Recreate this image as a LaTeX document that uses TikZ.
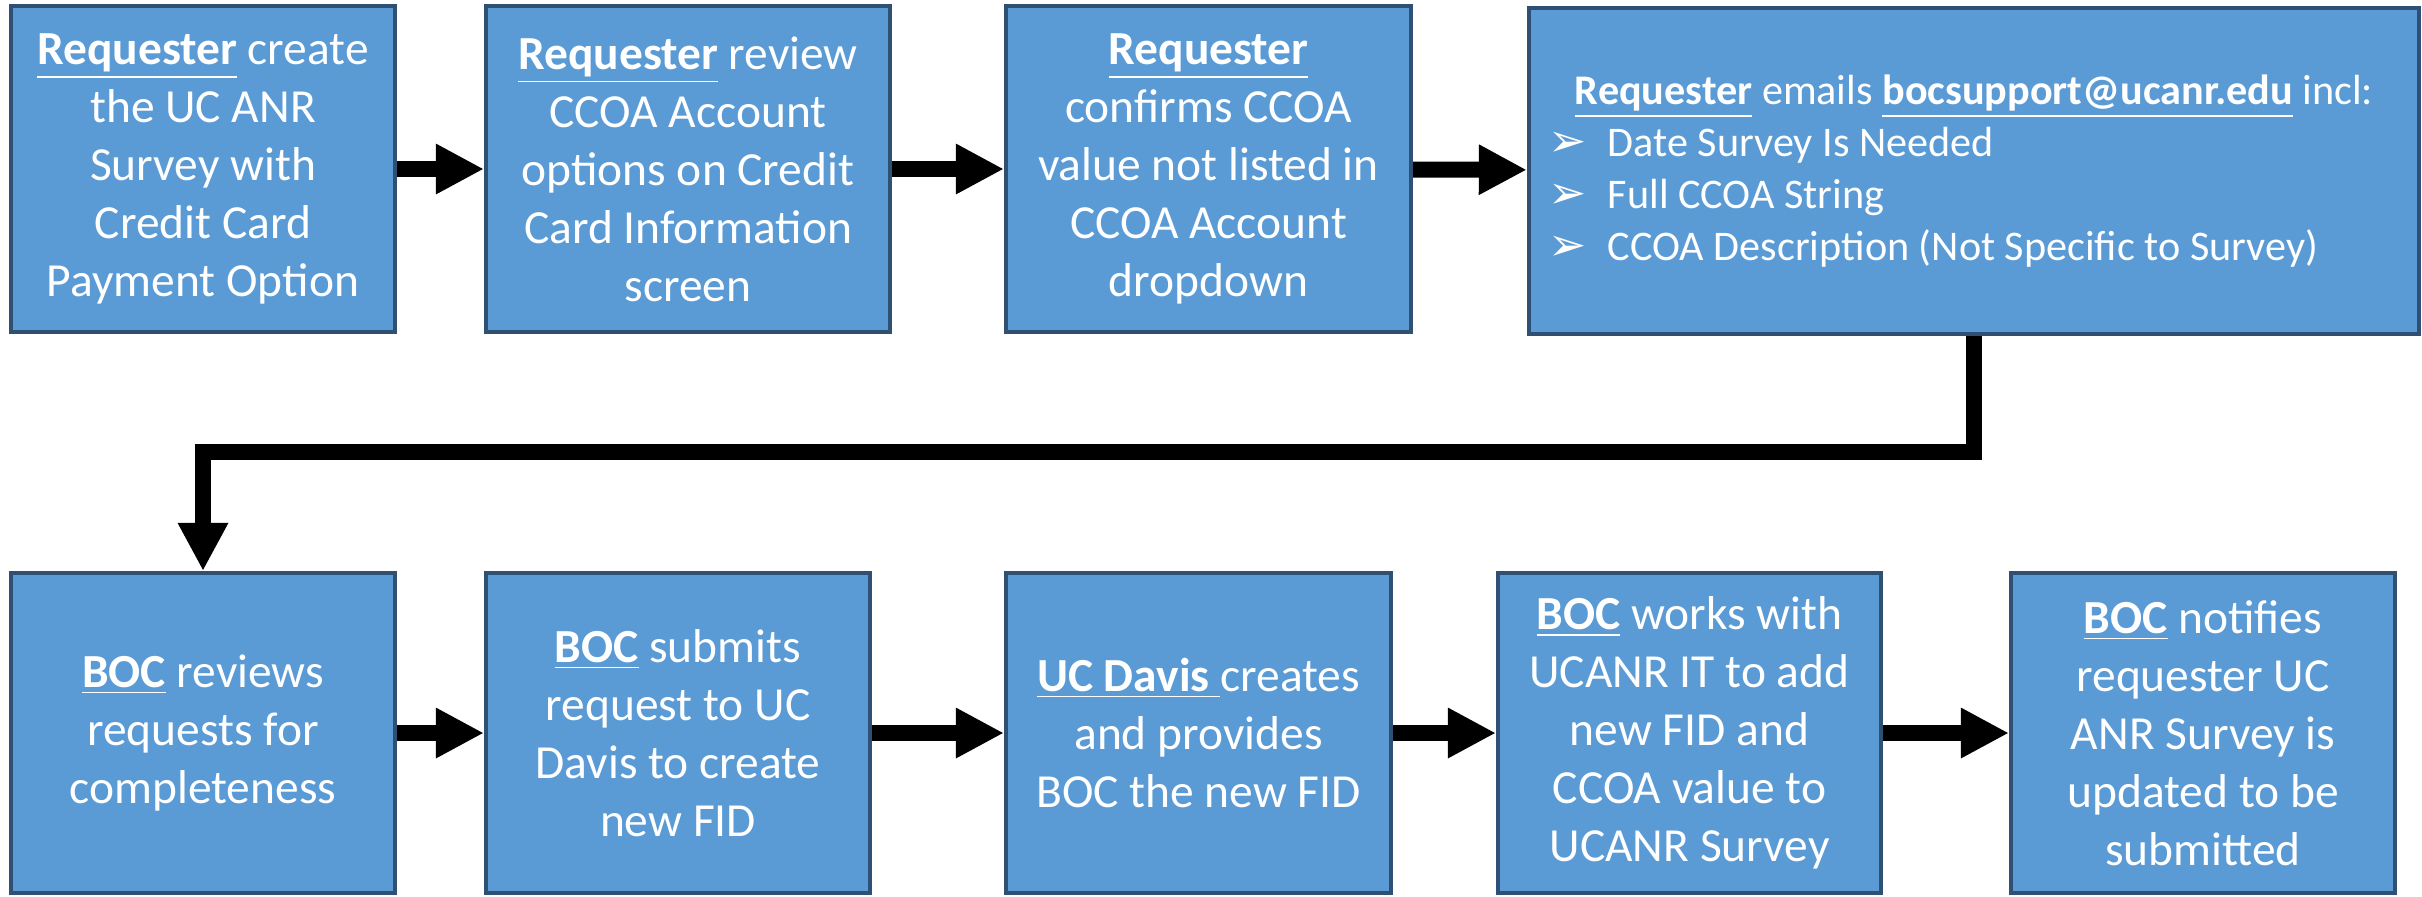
\documentclass[tikz,border=0pt]{standalone}
\usepackage{fontspec}
\setmainfont{Carlito}
\newfontfamily\dingfont{DejaVu Sans}
\usetikzlibrary{arrows.meta}
\definecolor{boxfill}{HTML}{5B9BD5}
\definecolor{boxline}{HTML}{2F4F73}
\newcommand{\ulb}[1]{\underline{\textbf{#1}}}
\newcommand{\bul}{\makebox[0.59cm][l]{\dingfont\fontsize{13}{14.6}\selectfont ➢}}
\tikzset{
  stepbox/.style={draw=boxline, line width=1.1pt, fill=boxfill, text=white,
    inner sep=0pt, align=center, font=\fontsize{13.5}{16.5}\selectfont},
  flow/.style={line width=0.16cm, line join=miter,
    -{Triangle[length=0.48cm, width=0.47cm]}}
}
\begin{document}
\begin{tikzpicture}[x=0.01cm,y=-0.01cm]
\useasboundingbox (0,0) rectangle (2422,896);
% top row
\node[stepbox, minimum width=3.84cm, minimum height=3.26cm] (b1) at (203,169)
  {\ulb{Requester} create\\the UC ANR\\Survey with\\Credit Card\\Payment Option};
\node[stepbox, minimum width=4.04cm, minimum height=3.26cm] (b2) at (688,169)
  {\ulb{Requester} review\\CCOA Account\\options on Credit\\Card Information\\screen};
\node[stepbox, minimum width=4.05cm, minimum height=3.26cm] (b3) at (1208.5,169)
  {\ulb{Requester}\\confirms CCOA\\value not listed in\\CCOA Account\\dropdown};
\node[stepbox, minimum width=8.90cm, minimum height=3.26cm, align=left,
  font=\fontsize{12}{14.8}\selectfont] (b4) at (1974,171)
  {\makebox[8.5cm][c]{\ulb{Requester} emails \ulb{bocsupport@ucanr.edu} incl:}\\
   \bul Date Survey Is Needed\\
   \bul Full CCOA String\\
   \bul CCOA Description (Not Specific to Survey)};
% bottom row
\node[stepbox, minimum width=3.84cm, minimum height=3.20cm] (b5) at (203,733)
  {\ulb{BOC} reviews\\requests for\\completeness};
\node[stepbox, minimum width=3.84cm, minimum height=3.20cm] (b6) at (678,733)
  {\ulb{BOC} submits\\request to UC\\Davis to create\\new FID};
\node[stepbox, minimum width=3.85cm, minimum height=3.20cm] (b7) at (1198.5,733)
  {\underline{\textbf{UC Davis} }creates\\and provides\\BOC the new FID};
\node[stepbox, minimum width=3.83cm, minimum height=3.20cm] (b8) at (1689.5,733)
  {\ulb{BOC} works with\\UCANR IT to add\\new FID and\\CCOA value to\\UCANR Survey};
\node[stepbox, minimum width=3.84cm, minimum height=3.20cm] (b9) at (2203,733)
  {\ulb{BOC} notifies\\requester UC\\ANR Survey is\\updated to be\\submitted};
% connectors
\draw[flow] (b1) -- (b2);
\draw[flow] (b2) -- (b3);
\draw[flow] (b3) -- (b4);
\coordinate (turn) at (203,452);
\draw[flow] (b4.south) |- (turn) -- (b5.north);
\draw[flow] (b5) -- (b6);
\draw[flow] (b6) -- (b7);
\draw[flow] (b7) -- (b8);
\draw[flow] (b8) -- (b9);
\end{tikzpicture}
\end{document}
